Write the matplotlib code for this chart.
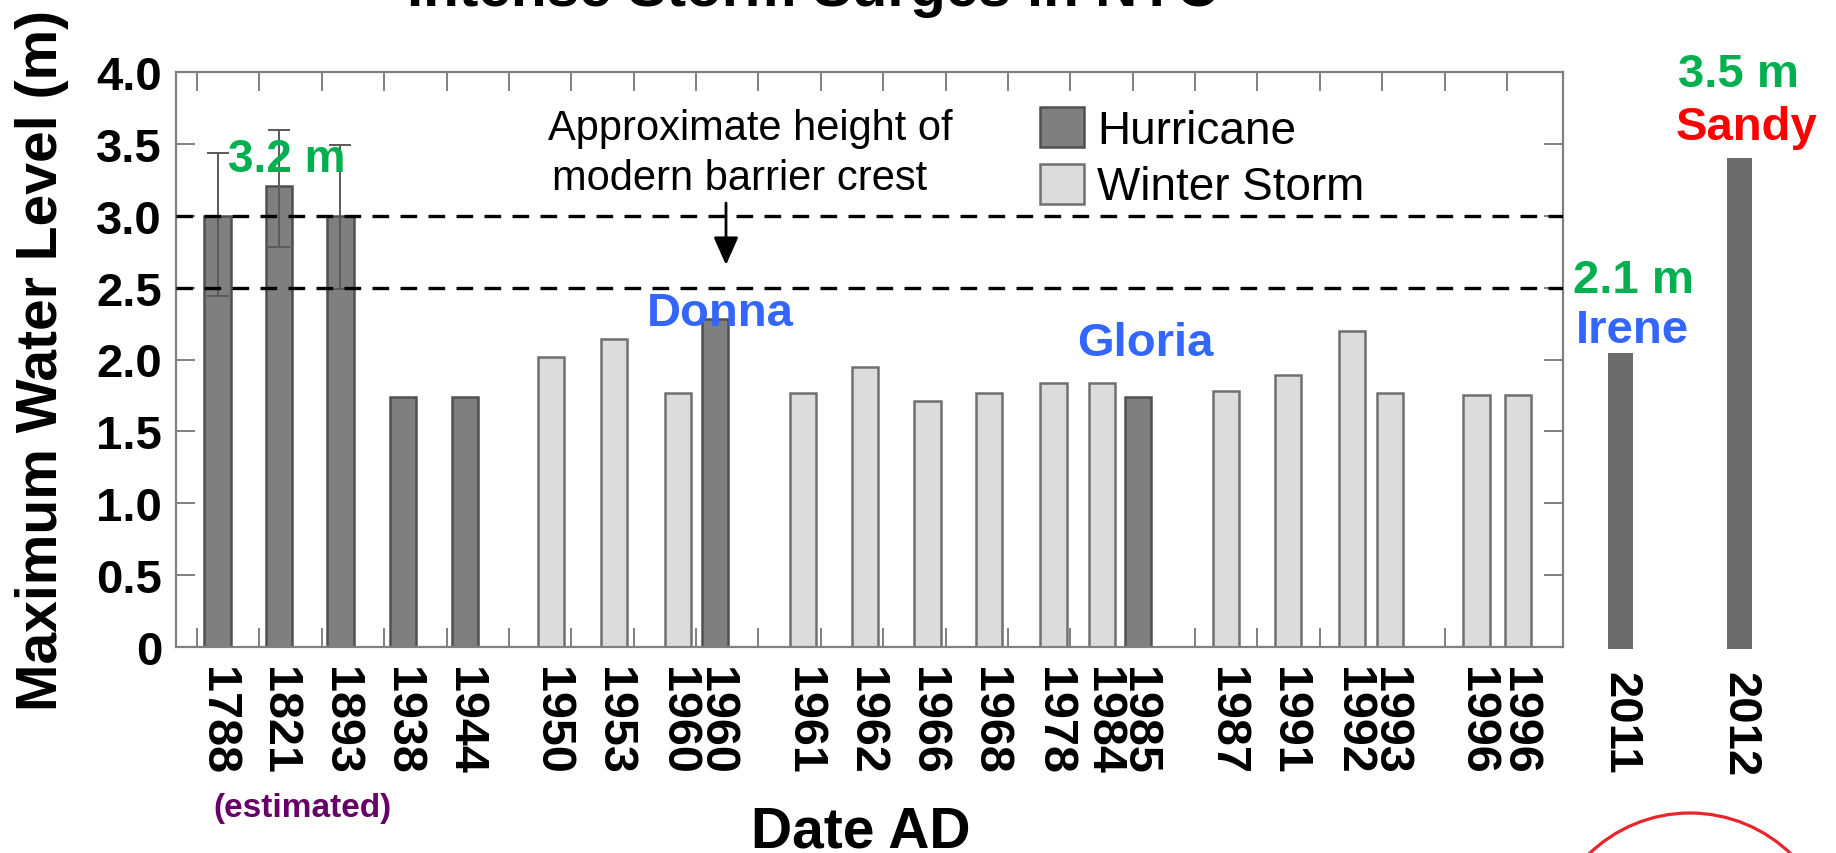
import matplotlib
matplotlib.use('Agg')
import matplotlib.pyplot as plt
from matplotlib.patches import Patch, Ellipse
from matplotlib import font_manager

# ---------------- data ----------------
years = ['1788', '1821', '1893', '1938', '1944', '1950', '1953', '1960', '1960',
         '1961', '1962', '1966', '1968', '1978', '1984', '1985', '1987', '1991',
         '1992', '1993', '1996', '1996']
levels = [3.00, 3.21, 3.00, 1.74, 1.74, 2.015, 2.14, 1.77, 2.28,
          1.77, 1.95, 1.71, 1.77, 1.84, 1.84, 1.74, 1.78, 1.89,
          2.20, 1.77, 1.75, 1.75]
storm_type = ['Hurricane', 'Hurricane', 'Hurricane', 'Hurricane', 'Hurricane',
              'Winter Storm', 'Winter Storm', 'Winter Storm', 'Hurricane',
              'Winter Storm', 'Winter Storm', 'Winter Storm', 'Winter Storm',
              'Winter Storm', 'Winter Storm', 'Hurricane', 'Winter Storm',
              'Winter Storm', 'Winter Storm', 'Winter Storm', 'Winter Storm',
              'Winter Storm']
err_low = [2.44, 2.78, 2.49]      # estimated events (first three)
err_high = [3.44, 3.60, 3.49]
crest_levels = [2.5, 3.0]
yticks = [0, 0.5, 1.0, 1.5, 2.0, 2.5, 3.0, 3.5, 4.0]
ytick_labels = ['0', '0.5', '1.0', '1.5', '2.0', '2.5', '3.0', '3.5', '4.0']
recent_years = ['2011', '2012']
recent_levels = [2.06, 3.46]
recent_names = ['Irene', 'Sandy']
recent_values = ['2.1 m', '3.5 m']

# ---------------- layout ----------------
W, H = 1836, 854
def fx(x): return x / W
def fy(y): return 1 - y / H

bar_pos = [0.33, 1.31, 2.30, 3.30, 4.29, 5.68, 6.68, 7.71, 8.31, 9.72, 10.71,
           11.71, 12.70, 13.73, 14.51, 15.09, 16.50, 17.49, 18.52, 19.12,
           20.51, 21.18]
bar_w = 0.42
recent_pos = [0.81, 2.717]
recent_bottom = [0.0, -0.042]

names = {f.name for f in font_manager.fontManager.ttflist}
BASE = 'Liberation Sans' if 'Liberation Sans' in names else 'DejaVu Sans'
plt.rcParams['font.family'] = [BASE, 'DejaVu Sans']

fill = {'Hurricane': '#7f7f7f', 'Winter Storm': '#dcdcdc'}
edge = {'Hurricane': '#505050', 'Winter Storm': '#707070'}
frame_col = '#808080'

fig = plt.figure(figsize=(W / 100, H / 100), dpi=100)
fig.patch.set_facecolor('white')

ax = fig.add_axes([fx(176), fy(648), (1563 - 176) / W, (648 - 73) / H])
ax.set_xlim((176 - 197) / 62.38, (1563 - 197) / 62.38)
ax.set_ylim(0, 4.0)

for p, v, t in zip(bar_pos, levels, storm_type):
    ax.bar(p, v, width=bar_w, color=fill[t], edgecolor=edge[t], linewidth=1.8, zorder=2)

n_est = len(err_low)
ax.errorbar(bar_pos[:n_est], levels[:n_est],
            yerr=[[levels[i] - err_low[i] for i in range(n_est)],
                  [err_high[i] - levels[i] for i in range(n_est)]],
            fmt='none', ecolor='#5a5a5a', elinewidth=1.4, capsize=8, capthick=1.4, zorder=3)

for c in crest_levels:
    ax.axhline(c, color='black', lw=2.4, linestyle=(0, (5.0, 3.4)), zorder=4)

for s in ax.spines.values():
    s.set_color(frame_col)
    s.set_linewidth(1.6)

ax.set_xticks(range(22))
ax.set_xticks(bar_pos, labels=years, minor=True)
ax.set_yticks(yticks, labels=ytick_labels)
ax.tick_params(which='major', direction='in', length=14, width=1.4, color=frame_col,
               top=True, right=True, labelbottom=False)
ax.tick_params(axis='x', which='minor', length=0, pad=14, labelsize=35, labelrotation=270)
ax.tick_params(axis='y', which='major', pad=10, labelsize=34)
for lbl in ax.get_xticklabels(minor=True) + ax.get_yticklabels():
    lbl.set_fontweight('bold')

ax.set_ylabel('Maximum Water Level (m)', fontsize=41, fontweight='bold')
ax.yaxis.set_label_coords(-0.077, 0.5)
ax.set_xlabel('Date AD', fontsize=41, fontweight='bold')
ax.xaxis.set_label_coords((861 - 176) / 1387, (648 - 806) / 575)

# barrier crest annotation
ax.text((750 - 176) / 1387, (648 - 140) / 575, 'Approximate height of', transform=ax.transAxes,
        ha='center', va='baseline', fontsize=30)
ax.text((740 - 176) / 1387, (648 - 190) / 575, 'modern barrier crest', transform=ax.transAxes,
        ha='center', va='baseline', fontsize=30)
ax.annotate('', xy=((726 - 197) / 62.38, (648 - 266) / 143.75),
            xytext=((726 - 197) / 62.38, (648 - 204) / 143.75),
            arrowprops=dict(arrowstyle='-|>,head_length=0.45,head_width=0.2',
                            color='black', lw=2, mutation_scale=38, shrinkA=0, shrinkB=0),
            zorder=5)

handles = [Patch(facecolor=fill[k], edgecolor=edge[k], linewidth=1.8, label=k)
           for k in ['Hurricane', 'Winter Storm']]
ax.legend(handles=handles, loc='upper left',
          bbox_to_anchor=((1040 - 176) / 1387, (648 - 108) / 575),
          frameon=False, fontsize=33, handlelength=0.95, handleheight=0.95,
          handletextpad=0.3, labelspacing=0.25, borderpad=0, borderaxespad=0)

# ---------------- recent storms ----------------
ax2 = fig.add_axes([fx(1570), fy(650), (W - 1570) / W, 575 / H])
ax2.set_xlim(0, (W - 1570) / 62.38)
ax2.set_ylim(0, 4.0)
ax2.bar(recent_pos, recent_levels, width=0.40, bottom=recent_bottom, color='#6b6b6b')
ax2.set_xticks(recent_pos, labels=recent_years)
ax2.tick_params(length=0, pad=16, labelsize=34, labelrotation=270, left=False, labelleft=False)
for lbl in ax2.get_xticklabels():
    lbl.set_fontweight('bold')
for s in ax2.spines.values():
    s.set_visible(False)
ax2.patch.set_visible(False)

GREEN, BLUE, RED, PURPLE = '#00b050', '#3366ff', '#ff0000', '#660066'
fig.text(fx(1633), fy(293), recent_values[0], color=GREEN, fontsize=34, fontweight='bold', ha='center', va='baseline')
fig.text(fx(1632), fy(343), recent_names[0], color=BLUE, fontsize=34, fontweight='bold', ha='center', va='baseline')
fig.text(fx(1738), fy(87), recent_values[1], color=GREEN, fontsize=34, fontweight='bold', ha='center', va='baseline')
fig.text(fx(1747), fy(140), recent_names[1], color=RED, fontsize=34, fontweight='bold', ha='center', va='baseline')

fig.text(fx(287), fy(172), '3.2 m', color=GREEN, fontsize=33, fontweight='bold',
         ha='center', va='baseline')
fig.text(fx(720), fy(326), 'Donna', color=BLUE, fontsize=34, fontweight='bold',
         ha='center', va='baseline')
fig.text(fx(1145), fy(356), 'Gloria', color=BLUE, fontsize=34, fontweight='bold',
         ha='center', va='baseline')
fig.text(fx(302), fy(817), '(estimated)', color=PURPLE, fontsize=24, fontweight='bold',
         ha='center', va='baseline')

# cut-off title at top edge
fig.text(fx(813), fy(6), 'Intense Storm Surges in NYC', fontsize=42, fontweight='bold',
         ha='center', va='baseline')

# red circle at bottom right
fig.add_artist(Ellipse((fx(1690), fy(959)), width=290 / W, height=290 / H,
                       transform=fig.transFigure, fill=False, edgecolor='#e8242c', lw=2.3))

fig.savefig('out.png', dpi=100)
